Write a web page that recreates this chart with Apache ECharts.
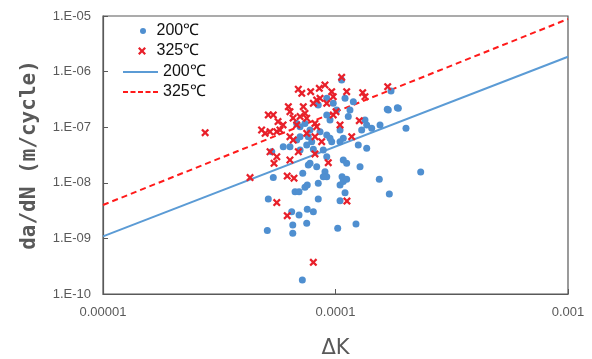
<!DOCTYPE html>
<html>
<head>
<meta charset="utf-8">
<script src="https://cdn.jsdelivr.net/npm/echarts@6/dist/echarts.min.js"></script>
<style>html,body{margin:0;padding:0;background:#fff;}#c{width:592px;height:359px;}</style>
</head>
<body>
<div id="c"></div>
<script>
// Tick labels
var xTickLabels = {'-5': '0.00001', '-4': '0.0001', '-3': '0.001'};
var yTickLabels = {'-10': '1.E-10', '-9': '1.E-09', '-8': '1.E-08', '-7': '1.E-07', '-6': '1.E-06', '-5': '1.E-05'};

// 200°C measured points [dK, da/dN]
var points200 = [
 [1.063e-4,7.06e-7],[1.733e-4,4.48e-7],[1.687e-4,2.04e-7],[1.863e-4,2.19e-7],[1.099e-4,3.31e-7],
 [1.193e-4,2.88e-7],[9.17e-5,3.31e-7],[8.43e-5,2.51e-7],[9.78e-5,2.69e-7],[1.012e-4,2.04e-7],
 [1.135e-4,1.55e-7],[1.154e-4,2.04e-7],[9.47e-5,1.35e-7],[9.17e-5,1.66e-7],[1.339e-4,1.35e-7],
 [1.362e-4,1.10e-7],[1.431e-4,9.55e-8],[1.296e-4,8.91e-8],[1.554e-4,1.10e-7],[2.01e-4,9.55e-8],
 [6.81e-5,1.17e-7],[7.04e-5,1.02e-7],[7.39e-5,1.17e-7],[7.77e-5,8.91e-8],[7.64e-5,6.75e-8],
 [7.90e-5,5.48e-8],[8.58e-5,8.30e-8],[9.17e-5,7.24e-8],[9.47e-5,6.31e-8],[9.63e-5,5.48e-8],
 [1.046e-4,8.91e-8],[1.080e-4,6.31e-8],[1.046e-4,5.48e-8],[1.253e-4,4.79e-8],[1.362e-4,4.17e-8],
 [5.96e-5,4.46e-8],[6.37e-5,4.46e-8],[7.04e-5,3.89e-8],[6.81e-5,5.89e-8],[7.04e-5,6.75e-8],
 [7.52e-5,4.79e-8],[8.03e-5,4.01e-8],[8.86e-5,3.89e-8],[9.17e-5,2.94e-8],[1.080e-4,2.57e-8],
 [1.117e-4,2.24e-8],[1.275e-4,1.95e-8],[8.30e-5,1.95e-8],[7.64e-5,2.09e-8],[5.32e-5,3.62e-8],
 [2.325e-4,1.56e-8],[1.543e-4,1.16e-8],[1.704e-4,6.29e-9],[8.43e-5,9.80e-9],[1.046e-4,9.12e-9],
 [1.080e-4,1.05e-8],[1.067e-4,1.29e-8],[1.117e-4,1.16e-8],[9.01e-5,1.58e-8],[9.17e-5,1.29e-8],
 [8.86e-5,1.29e-8],[7.23e-5,1.48e-8],[5.40e-5,1.24e-8],[7.39e-5,8.30e-9],[7.56e-5,9.12e-9],
 [6.70e-5,6.92e-9],[6.97e-5,6.92e-9],[1.099e-4,6.64e-9],[5.14e-5,5.12e-9],[8.43e-5,5.12e-9],
 [1.046e-4,4.77e-9],[6.48e-5,3.02e-9],[6.97e-5,2.64e-9],[7.56e-5,3.34e-9],[8.03e-5,3.02e-9],
 [6.55e-5,1.74e-9],[7.52e-5,1.87e-9],[1.225e-4,1.82e-9],[1.022e-4,1.52e-9],[5.09e-5,1.38e-9],
 [6.55e-5,1.24e-9],[7.20e-5,1.79e-10],[7.77e-5,2.24e-8],[1.670e-4,2.10e-7],[1.845e-4,2.24e-7]
];

// 325°C measured points [dK, da/dN]
var points325 = [
 [1.063e-4,7.89e-7],[1.677e-4,5.35e-7],[6.92e-5,4.81e-7],[7.16e-5,4.07e-7],[7.82e-5,4.35e-7],
 [8.52e-5,5.01e-7],[9.01e-5,5.74e-7],[9.63e-5,4.35e-7],[9.78e-5,3.54e-7],[1.117e-4,4.35e-7],
 [1.309e-4,4.18e-7],[1.339e-4,3.54e-7],[8.30e-5,3.08e-7],[8.58e-5,3.31e-7],[8.03e-5,2.69e-7],
 [9.17e-5,2.69e-7],[6.27e-5,2.34e-7],[6.37e-5,1.90e-7],[7.27e-5,2.34e-7],[7.39e-5,1.78e-7],
 [7.04e-5,1.55e-7],[7.52e-5,1.45e-7],[5.14e-5,1.66e-7],[5.40e-5,1.66e-7],[1.005e-4,1.90e-7],
 [9.78e-5,1.66e-7],[5.66e-5,1.26e-7],[5.95e-5,1.10e-7],[6.57e-5,1.46e-7],[6.81e-5,1.10e-7],
 [8.16e-5,1.17e-7],[8.30e-5,1.02e-7],[1.046e-4,1.10e-7],[1.266e-4,1.31e-7],[4.81e-5,8.91e-8],
 [4.98e-5,7.76e-8],[5.23e-5,8.30e-8],[5.59e-5,8.30e-8],[5.77e-5,8.91e-8],[2.75e-5,7.96e-8],
 [6.37e-5,6.75e-8],[6.58e-5,5.89e-8],[7.52e-5,7.76e-8],[8.16e-5,6.75e-8],[1.174e-4,6.75e-8],
 [8.72e-5,5.48e-8],[5.23e-5,3.62e-8],[5.59e-5,2.94e-8],[5.44e-5,2.24e-8],[6.37e-5,2.57e-8],
 [6.92e-5,3.62e-8],[8.16e-5,3.30e-8],[9.31e-5,2.30e-8],[4.29e-5,1.24e-8],[6.20e-5,1.32e-8],
 [6.63e-5,1.21e-8],[5.59e-5,4.40e-9],[1.12e-4,4.70e-9],[6.20e-5,2.56e-9],[8.03e-5,3.72e-10]
];

// Fitted power-law lines (endpoints at dK = 1e-5 and 1e-3)
var fit200 = [[1e-5,1.09e-9],[1e-3,1.85e-6]];
var fit325 = [[1e-5,3.99e-9],[1e-3,8.83e-6]];

var seriesNames = {s200: '200℃', s325: '325℃', f200: '200℃', f325: '325℃'};

var crossPath = 'path://M0,2L2,0L5,3L8,0L10,2L7,5L10,8L8,10L5,7L2,10L0,8L3,5Z';
var solidIcon = 'path://M0,0H35V2H0Z';
var dashIcon = 'path://M0,0H5V2H0Z M7.5,0H12.5V2H7.5Z M15,0H20V2H15Z M22.5,0H27.5V2H22.5Z M30,0H35V2H30Z';

var chart = echarts.init(document.getElementById('c'), null, {renderer: 'canvas'});
var axisColor = '#595959';
var legendText = {fontFamily: 'Liberation Sans', fontSize: 16, color: '#111'};
function mkLegend(name, left, top, w, h, icon, color) {
  return {
    orient: 'vertical', left: left, top: top, padding: 0, itemWidth: w, itemHeight: h,
    data: [{name: name, icon: icon, itemStyle: {color: color}}], selectedMode: false,
    formatter: function (n) { return seriesNames[n]; },
    textStyle: legendText
  };
}
chart.setOption({
  animation: false,
  backgroundColor: '#fff',
  grid: {left: 103, right: 24, top: 16, bottom: 65, show: true, borderColor: axisColor, borderWidth: 1.2,
         containLabel: false, outerBoundsMode: 'none'},
  legend: [
    mkLegend('s200', 140, 23, 17, 6, 'circle', '#4f8fd0'),
    mkLegend('s325', 138, 43, 19, 8, crossPath, '#e8202a'),
    mkLegend('f200', 123, 64, 35, 2, solidIcon, '#5b9bd5'),
    mkLegend('f325', 123, 84, 35, 2, dashIcon, '#ff1a1a')
  ],
  xAxis: {
    type: 'log', logBase: 10, min: 1e-5, max: 1e-3,
    name: 'ΔK', nameLocation: 'middle', nameGap: 44,
    nameTextStyle: {fontFamily: 'DejaVu Sans', fontSize: 21, color: axisColor},
    axisLine: {show: true, lineStyle: {color: axisColor, width: 1.2}},
    axisTick: {show: true, inside: true, length: 5, lineStyle: {color: axisColor}},
    splitLine: {show: false}, minorTick: {show: false},
    axisLabel: {margin: 12, fontFamily: 'Liberation Sans', fontSize: 13, color: axisColor,
      formatter: function (v) { return xTickLabels[String(Math.round(Math.log10(v)))] || ''; }}
  },
  yAxis: {
    type: 'log', logBase: 10, min: 1e-10, max: 1e-5,
    name: 'da/dN (m/cycle)', nameLocation: 'middle', nameGap: 63, nameRotate: 90,
    nameTextStyle: {fontFamily: 'DejaVu Sans Mono', fontWeight: 'bold', fontSize: 21, color: axisColor},
    axisLine: {show: true, lineStyle: {color: axisColor, width: 1.2}},
    axisTick: {show: true, inside: true, length: 5, lineStyle: {color: axisColor}},
    splitLine: {show: false}, minorTick: {show: false},
    axisLabel: {margin: 12, fontFamily: 'Liberation Sans', fontSize: 13, color: axisColor,
      formatter: function (v) { return yTickLabels[String(Math.round(Math.log10(v)))] || ''; }}
  },
  series: [
    {name: 'f200', type: 'line', data: fit200, symbol: 'none', z: 1,
     lineStyle: {color: '#5b9bd5', width: 2}, itemStyle: {color: '#5b9bd5'}},
    {name: 'f325', type: 'line', data: fit325, symbol: 'none', z: 1,
     lineStyle: {color: '#ff1a1a', width: 2, type: [6, 4]}, itemStyle: {color: '#ff1a1a'}},
    {name: 's200', type: 'scatter', data: points200, symbol: 'circle', symbolSize: 7, z: 3,
     itemStyle: {color: '#4f8fd0', opacity: 1}},
    {name: 's325', type: 'scatter', data: points325, symbol: crossPath, symbolSize: 8, z: 4,
     itemStyle: {color: '#e8202a', opacity: 1}}
  ]
});
</script>
</body>
</html>
